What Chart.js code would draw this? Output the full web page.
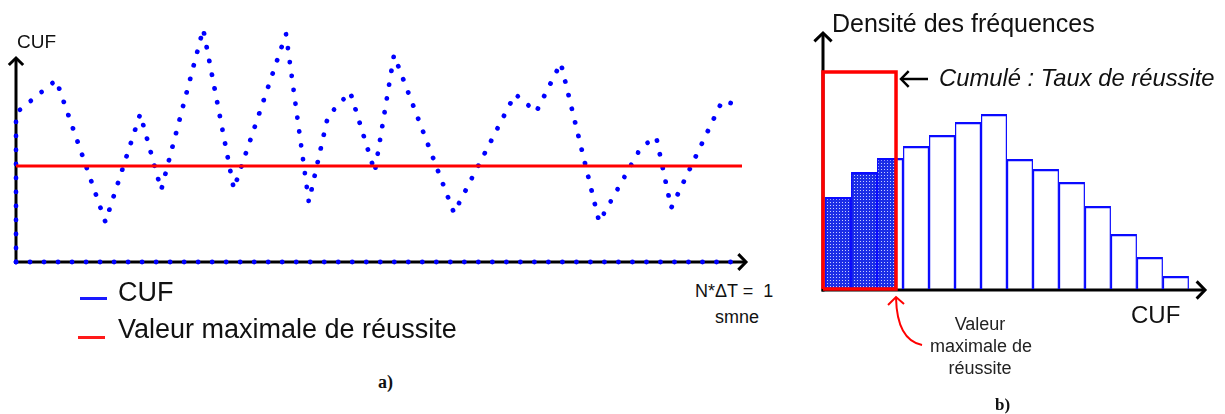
<!DOCTYPE html>
<html>
<head>
<meta charset="utf-8">
<script src="https://cdn.jsdelivr.net/npm/chart.js@4.4.1/dist/chart.umd.min.js"></script>
<style>
    body { margin: 0; width: 1225px; height: 414px; position: relative; overflow: hidden; background: #fff;
           font-family: Arial, "Liberation Sans", sans-serif; color: #111; }
    canvas { position: absolute; }
    .t { position: absolute; white-space: pre; line-height: 1; }
    .mark { position: absolute; height: 3px; width: 27px; }
    .panel { font-family: "Times New Roman", "Liberation Serif", serif; font-weight: bold; }
</style>
</head>
<body>
<canvas id="cufChart" width="780" height="280" style="left:0;top:0"></canvas>
<canvas id="histChart" width="435" height="360" style="left:790px;top:0"></canvas>

<!-- panel a texts -->
<div class="t" style="left:17px;top:32px;font-size:19px">CUF</div>
<div class="mark" style="left:80px;top:297px;background:#1a1aff"></div>
<div class="t" style="left:118px;top:279px;font-size:27px">CUF</div>
<div class="mark" style="left:78px;top:336px;background:#ff1a1a"></div>
<div class="t" style="left:118px;top:316px;font-size:27px">Valeur maximale de réussite</div>
<div class="t" style="left:695px;top:282px;font-size:18px">N*ΔT =  1</div>
<div class="t" style="left:715px;top:308px;font-size:18px">smne</div>
<div class="t panel" style="left:378px;top:373px;font-size:18px">a)</div>

<!-- panel b texts -->
<div class="t" style="left:832px;top:11px;font-size:25px">Densité des fréquences</div>
<div class="t" style="left:939px;top:66px;font-size:23.8px;font-style:italic">Cumulé : Taux de réussite</div>
<div class="t" style="left:1131px;top:303px;font-size:24px">CUF</div>
<div class="t" style="left:930px;top:313px;width:100px;font-size:18px;line-height:22px;text-align:center;color:#222">Valeur
maximale de
réussite</div>
<div class="t panel" style="left:995px;top:396px;font-size:17px">b)</div>

<script>
// ---- panel a : CUF over one week (x and y in arbitrary units) ----
const cufTime  = [0, 0, 6.7, 14.9, 20.7, 24.2, 31.2, 36.3, 45, 48.8, 52, 55.7, 59.8, 63, 73, 83.2, 86.7, 90.8, 97.2, 104.2, 106.7, 109.2, 117.7, 119.8];
const cufValue = [0, 74.5, 91, 20, 74, 36, 116.5, 36.5, 114, 30, 73, 85, 45, 103.5, 24.5, 84, 75, 99.5, 20, 57.5, 62.5, 27, 80.5, 79];
const seuilCuf = 48;       // valeur maximale de réussite
const tMax = 121;
const yMaxA = 121;

// ---- panel b : histogram of CUF ----
const classes = [0.5, 1.5, 2.5, 3.5, 4.5, 5.5, 6.5, 7.5, 8.5, 9.5, 10.5, 11.5, 12.5, 13.5];
const densite = [46, 58.5, 65.5, 71.5, 77, 83.5, 87.5, 65, 60, 53.5, 41.5, 27.5, 16, 6.5];
const seuilClasse = 2.73;  // same threshold, in class units
const cumulHaut = 108.5;   // height of the red "cumulé" box
const xMinB = -0.08, xMaxB = 14.62, yMaxB = 128;

const BLUE = '#0000ff';
const RED = '#ff0000';

function arrow(ctx, x0, y0, x1, y1, color, w, head) {
    ctx.save();
    ctx.strokeStyle = color;
    ctx.lineWidth = w;
    ctx.lineJoin = 'miter';
    ctx.beginPath();
    ctx.moveTo(x0, y0);
    ctx.lineTo(x1, y1);
    ctx.stroke();
    const a = Math.atan2(y1 - y0, x1 - x0);
    ctx.beginPath();
    ctx.moveTo(x1 - head * Math.cos(a - 0.8), y1 - head * Math.sin(a - 0.8));
    ctx.lineTo(x1, y1);
    ctx.lineTo(x1 - head * Math.cos(a + 0.8), y1 - head * Math.sin(a + 0.8));
    ctx.stroke();
    ctx.restore();
}

// axes with arrow heads, drawn under the data
const axesA = {
    id: 'axesA',
    beforeDatasetsDraw(chart) {
        const { ctx, chartArea, scales: { x, y } } = chart;
        const ox = x.getPixelForValue(0), oy = y.getPixelForValue(0);
        arrow(ctx, ox, oy + 1.5, ox, chartArea.top + 38, '#000', 3, 10);
        arrow(ctx, ox - 1.5, oy, chartArea.right + 4, oy, '#000', 3, 11);
    }
};

const dotted = {
    borderColor: BLUE,
    borderWidth: 4.8,
    borderDash: [0.01, 14],
    borderCapStyle: 'round',
    pointRadius: 0,
    tension: 0,
    clip: false,
    order: 1
};

new Chart(document.getElementById('cufChart'), {
    type: 'line',
    data: {
        datasets: [
            {
                label: 'Valeur maximale de réussite',
                data: [{ x: 0, y: seuilCuf }, { x: tMax, y: seuilCuf }],
                borderColor: RED,
                borderWidth: 3,
                pointRadius: 0,
                clip: false,
                order: 0
            },
            Object.assign({
                label: 'CUF',
                data: cufTime.map((t, i) => ({ x: t, y: cufValue[i] }))
            }, dotted),
            Object.assign({
                label: 'CUF (base)',
                data: [{ x: 0, y: 0 }, { x: cufTime[cufTime.length - 1], y: 0 }]
            }, dotted)
        ]
    },
    options: {
        responsive: false,
        animation: false,
        layout: { padding: { left: 16, right: 38, top: 20, bottom: 18 } },
        scales: {
            x: { type: 'linear', min: 0, max: tMax, display: false },
            y: { type: 'linear', min: 0, max: yMaxA, display: false }
        },
        plugins: { legend: { display: false }, tooltip: { enabled: false } }
    },
    plugins: [axesA]
});

// panel b
const histCanvas = document.getElementById('histChart');
const hctx = histCanvas.getContext('2d');

function motif() {
    const c = document.createElement('canvas');
    c.width = 3; c.height = 3;
    const g = c.getContext('2d');
    g.fillStyle = '#1c2ee6';
    g.fillRect(0, 0, 3, 3);
    g.fillStyle = '#c4ccff';
    g.fillRect(1, 1, 1, 1);
    return hctx.createPattern(c, 'repeat');
}

// cumulated part of the histogram, up to the threshold
const shade = [];
for (let i = 0; i < seuilClasse; i++) shade.push({ x: i, y: densite[i] });
shade.push({ x: seuilClasse, y: densite[Math.floor(seuilClasse)] });

const box = [
    { x: xMinB, y: 0 }, { x: xMinB, y: cumulHaut },
    { x: seuilClasse, y: cumulHaut }, { x: seuilClasse, y: 0 }, { x: xMinB, y: 0 }
];

const axesB = {
    id: 'axesB',
    beforeDatasetsDraw(chart) {
        const { ctx, chartArea, scales: { x, y } } = chart;
        const ox = chartArea.left, oy = y.getPixelForValue(0) + 1;
        arrow(ctx, ox, oy + 1.5, ox, chartArea.top, '#000', 3, 12);
        arrow(ctx, ox - 1.5, oy, chartArea.right, oy, '#000', 3, 12);
    },
    afterDatasetsDraw(chart) {
        const { ctx, scales: { x, y } } = chart;
        const sx = x.getPixelForValue(seuilClasse);
        const top = y.getPixelForValue(cumulHaut);
        const base = y.getPixelForValue(0);
        // "<- Cumulé"
        arrow(ctx, sx + 32, top + 7, sx + 5, top + 7, '#000', 2.5, 11);
        // curved pointer to the threshold
        ctx.save();
        ctx.strokeStyle = RED;
        ctx.lineWidth = 2;
        ctx.beginPath();
        ctx.moveTo(sx + 26, base + 56);
        ctx.quadraticCurveTo(sx + 1, base + 51, sx, base + 9);
        ctx.stroke();
        ctx.beginPath();
        ctx.moveTo(sx - 8, base + 16);
        ctx.lineTo(sx, base + 8);
        ctx.lineTo(sx + 8, base + 15);
        ctx.stroke();
        ctx.restore();
    }
};

new Chart(histCanvas, {
    type: 'bar',
    data: {
        datasets: [
            {
                type: 'line',
                label: 'Cumulé',
                data: box,
                borderColor: RED,
                borderWidth: 3.5,
                borderJoinStyle: 'miter',
                pointRadius: 0,
                clip: false,
                order: 0
            },
            {
                type: 'bar',
                label: 'Densité des fréquences',
                data: classes.map((c, i) => ({ x: c, y: densite[i] })),
                backgroundColor: 'rgba(0,0,0,0)',
                borderColor: '#0a0aff',
                borderWidth: { top: 2.2, left: 1.2, right: 1.2, bottom: 0 },
                borderSkipped: false,
                inflateAmount: 0,
                barPercentage: 1,
                categoryPercentage: 1,
                order: 1
            },
            {
                type: 'line',
                label: 'Taux de réussite',
                data: shade,
                stepped: 'before',
                fill: 'origin',
                backgroundColor: motif(),
                borderWidth: 0,
                pointRadius: 0,
                order: 2
            }
        ]
    },
    options: {
        responsive: false,
        animation: false,
        layout: { padding: { left: 33, right: 20, top: 33, bottom: 71 } },
        scales: {
            x: { type: 'linear', min: xMinB, max: xMaxB, offset: false, display: false },
            y: { type: 'linear', min: 0, max: yMaxB, display: false }
        },
        plugins: { legend: { display: false }, tooltip: { enabled: false } }
    },
    plugins: [axesB]
});
</script>
</body>
</html>
